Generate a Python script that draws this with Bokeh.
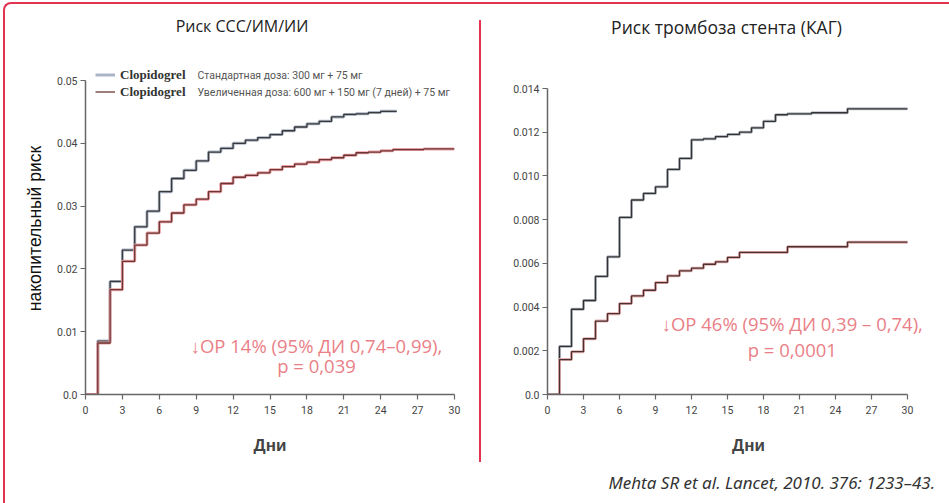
from bokeh.plotting import figure
from bokeh.models import Range1d, FixedTicker, Legend, LegendItem, Label, Div, Spacer
from bokeh.layouts import row, column
from bokeh.embed import file_html
from bokeh.resources import INLINE

PINK = "#e23451"
NOTE = "#ea7f87"

# ---------------- data ----------------
# Left: CV death / MI / stroke, cumulative risk
left_std_days = [0, 1, 2, 3, 4, 5, 6, 7, 8, 9, 10, 11, 12, 13, 14, 15, 16, 17, 18, 19, 20, 21, 22, 23, 24, 25.3]
left_std_risk = [0, 0.0085, 0.0180, 0.0230, 0.0267, 0.0292, 0.0323, 0.0344, 0.0357, 0.0372, 0.0386, 0.0392,
                 0.0400, 0.0405, 0.0409, 0.0414, 0.0420, 0.0426, 0.0431, 0.0435, 0.0442, 0.0446, 0.0447,
                 0.0449, 0.0451, 0.0451]
left_high_days = [0, 1, 2, 3, 4, 5, 6, 7, 8, 9, 10, 11, 12, 13, 14, 15, 16, 17, 18, 19, 20, 21, 22, 23, 24, 25, 27.5, 30]
left_high_risk = [0, 0.0082, 0.0167, 0.0212, 0.0238, 0.0257, 0.0275, 0.0289, 0.0302, 0.0311, 0.0323, 0.0336,
                  0.0346, 0.0349, 0.0353, 0.0358, 0.0363, 0.0367, 0.0370, 0.0374, 0.0377, 0.0381, 0.0385,
                  0.0386, 0.0388, 0.0390, 0.0391, 0.0391]
left_yticks = [0, 0.01, 0.02, 0.03, 0.04, 0.05]
left_ylabels = ["0.0", "0.01", "0.02", "0.03", "0.04", "0.05"]

# Right: stent thrombosis
right_std_days = [0, 1, 2, 3, 4, 5, 6, 7, 8, 9, 10, 11, 12, 13, 14, 15, 16, 17, 18, 19, 20, 22, 25, 30]
right_std_risk = [0, 0.0022, 0.0039, 0.0043, 0.0054, 0.0063, 0.0081, 0.0089, 0.0092, 0.0095, 0.0103, 0.0108,
                  0.01165, 0.0117, 0.0118, 0.0119, 0.0120, 0.0122, 0.0125, 0.0128, 0.01284, 0.01289,
                  0.01307, 0.01307]
right_high_days = [0, 1, 2, 3, 4, 5, 6, 7, 8, 9, 10, 11, 12, 13, 14, 15, 16, 20, 25, 30]
right_high_risk = [0, 0.0016, 0.00196, 0.00255, 0.00336, 0.0037, 0.00416, 0.00451, 0.00477, 0.00512,
                   0.00543, 0.00566, 0.00578, 0.00596, 0.00607, 0.00627, 0.0065, 0.00676, 0.00697, 0.00697]
right_yticks = [0, 0.002, 0.004, 0.006, 0.008, 0.010, 0.012, 0.014]
right_ylabels = ["0.0", "0.002", "0.004", "0.006", "0.008", "0.010", "0.012", "0.014"]

xticks = [0, 3, 6, 9, 12, 15, 18, 21, 24, 27, 30]

titles = ["Риск ССС/ИМ/ИИ", "Риск тромбоза стента (КАГ)"]
legend_labels = ["Clopidogrel", "Clopidogrel"]
legend_notes = ["Стандартная доза: 300 мг + 75 мг",
                "Увеличенная доза: 600 мг + 150 мг (7 дней) + 75 мг"]
left_note = ["↓ОР 14% (95% ДИ 0,74–0,99),", "p = 0,039"]
right_note = ["↓ОР 46% (95% ДИ 0,39 – 0,74),", "p = 0,0001"]
citation = "Mehta SR et al. Lancet, 2010. 376: 1233–43."


def style_axes(p, ybounds, yticks, ylabels):
    for ax in (p.xaxis[0], p.yaxis[0]):
        ax.axis_line_color = "#666666"
        ax.axis_line_width = 1.5
        ax.major_tick_line_color = "#666666"
        ax.major_tick_line_width = 1.2
        ax.major_tick_out = 5
        ax.major_tick_in = 0
        ax.minor_tick_line_color = None
        ax.major_label_text_font = "Roboto"
        ax.major_label_text_font_size = "10.5px"
        ax.major_label_text_color = "#444444"
    p.xaxis.major_label_standoff = 6
    p.yaxis.major_label_standoff = 3
    p.xaxis.ticker = FixedTicker(ticks=xticks)
    p.xaxis.bounds = (0, 30)
    p.yaxis.ticker = FixedTicker(ticks=yticks)
    p.yaxis.major_label_overrides = {t: l for t, l in zip(yticks, ylabels)}
    p.yaxis.bounds = ybounds
    p.xaxis.axis_label = "Дни"
    p.xaxis.axis_label_text_font = "Liberation Sans"
    p.xaxis.axis_label_text_font_size = "17px"
    p.xaxis.axis_label_text_font_style = "bold"
    p.xaxis.axis_label_text_color = "#444444"
    p.xaxis.axis_label_standoff = 19
    p.grid.visible = False
    p.outline_line_color = None
    p.background_fill_color = "white"
    p.border_fill_color = "white"


def add_text(p, x, y, text, size, color="#222222", font="Open Sans", style="normal", align="center"):
    p.add_layout(Label(x=x, y=y, text=text, text_font=font, text_font_size=size, text_font_style=style,
                       text_color=color, text_align=align, text_baseline="middle"))


def title_div(text, width, size, pad_left):
    html = ('<div style="box-sizing:border-box;width:%dpx;padding-left:%dpx;padding-top:3px;'
            'text-align:center;font-family:\'Open Sans\';font-size:%s;color:#222;white-space:nowrap;">%s</div>'
            % (width, pad_left, size, text))
    return Div(text=html, width=width, height=40, margin=0)


# ---------------- left chart ----------------
left = figure(width=474, height=410, x_range=Range1d(0, 30), y_range=Range1d(0, 0.05287),
              output_backend="svg", toolbar_location=None,
              min_border_left=80, min_border_right=25, min_border_top=10, min_border_bottom=68)
style_axes(left, (0, 0.05), left_yticks, left_ylabels)

l_std_sh = left.step(left_std_days, left_std_risk, mode="after", line_color="#aab4c6", line_width=3)
left.step(left_std_days, left_std_risk, mode="after", line_color="#3a3a3a", line_width=1.3)
left.step(left_high_days, left_high_risk, mode="after", line_color="#eaa0a3", line_width=3)
l_high = left.step(left_high_days, left_high_risk, mode="after", line_color="#6a3535", line_width=1.3)

legend = Legend(items=[LegendItem(label=legend_labels[0], renderers=[l_std_sh]),
                       LegendItem(label=legend_labels[1], renderers=[l_high])],
                location=(10, 294), orientation="vertical")
legend.label_text_font = "Liberation Serif"
legend.label_text_font_style = "bold"
legend.label_text_font_size = "13px"
legend.label_text_color = "#333333"
legend.glyph_width = 20
legend.glyph_height = 17
legend.label_height = 17
legend.label_standoff = 5
legend.spacing = 0
legend.padding = 0
legend.margin = 0
legend.border_line_color = None
legend.background_fill_alpha = 0
left.add_layout(legend)

for note, yv in zip(legend_notes, [0.0508, 0.04809]):
    add_text(left, 9.1, yv, note, "10.5px", color="#555555", font="Roboto", align="left")

left.yaxis.axis_label = "накопительный риск"
left.yaxis.axis_label_text_font = "Liberation Sans"
left.yaxis.axis_label_text_font_size = "17.5px"
left.yaxis.axis_label_text_font_style = "normal"
left.yaxis.axis_label_text_color = "#111111"
left.yaxis.axis_label_standoff = 9

for txt, yv in zip(left_note, [0.0078, 0.00462]):
    add_text(left, 18.78, yv, txt, "18.5px", color=NOTE)

# ---------------- right chart ----------------
right = figure(width=468, height=410, x_range=Range1d(0, 33.5), y_range=Range1d(0, 0.01519),
               output_backend="svg", toolbar_location=None,
               min_border_left=66, min_border_right=0, min_border_top=10, min_border_bottom=68)
style_axes(right, (0, 0.014), right_yticks, right_ylabels)

right.step(right_std_days, right_std_risk, mode="after", line_color="#b9bec6", line_width=3)
right.step(right_std_days, right_std_risk, mode="after", line_color="#333333", line_width=1.3)
right.step(right_high_days, right_high_risk, mode="after", line_color="#e6b0b0", line_width=3)
right.step(right_high_days, right_high_risk, mode="after", line_color="#4a3030", line_width=1.3)

for txt, yv in zip(right_note, [0.003248, 0.002059]):
    add_text(right, 20.4, yv, txt, "18.5px", color=NOTE)

# ---------------- frame / layout ----------------
corner = Div(text="", width=946, height=10, margin=0,
             styles={"border-top": "2px solid " + PINK, "border-left": "2px solid " + PINK,
                     "border-top-left-radius": "8px", "box-sizing": "border-box"})
left_border = Div(text="", width=2, height=491, margin=0, styles={"background-color": PINK})
divider = column(Spacer(width=2, height=8, margin=0),
                 Div(text="", width=2, height=442, margin=0, styles={"background-color": PINK}),
                 spacing=0)
cite = Div(text=('<div style="width:930px;text-align:right;font-style:italic;font-family:\'Noto Sans\';'
                 'font-size:17px;color:#333;padding-top:9px;white-space:nowrap;">'
                 + citation + '</div>'),
           width=944, height=41, margin=0)

left_col = column(title_div(titles[0], 474, "16px", 0), left, spacing=0)
right_col = column(title_div(titles[1], 468, "17.5px", 23), right, spacing=0)
charts = row(left_col, divider, right_col, spacing=0)
body = column(charts, cite, spacing=0)
page = column(Spacer(width=949, height=2, margin=0),
              row(Spacer(width=3, height=10, margin=0), corner, spacing=0),
              row(Spacer(width=3, height=491, margin=0), left_border, body, spacing=0),
              spacing=0)

open("out.html", "w").write(file_html(page, INLINE))
